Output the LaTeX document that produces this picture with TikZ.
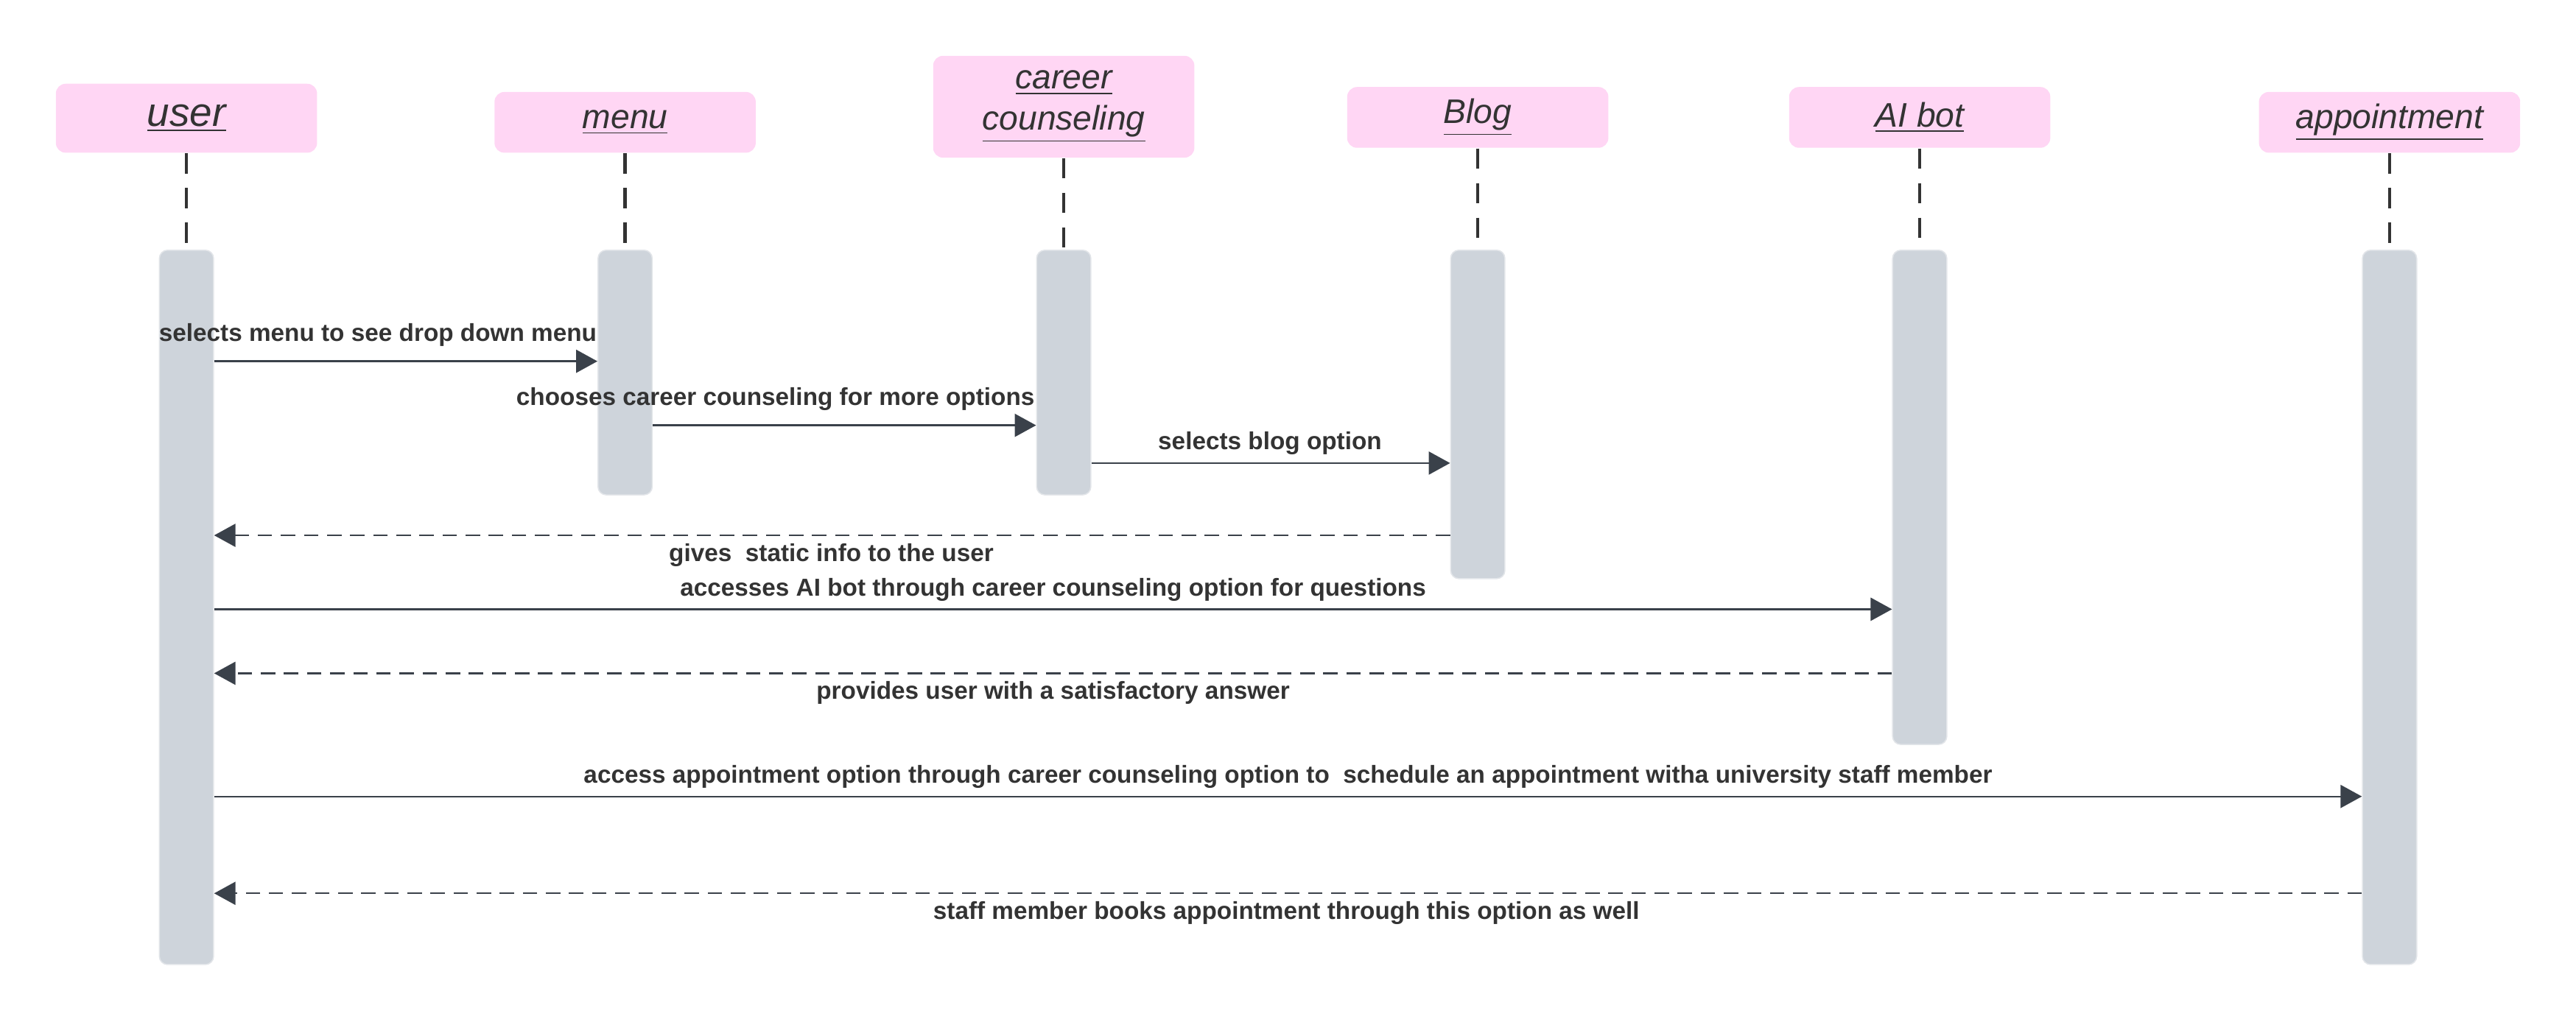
\documentclass[tikz,border=0pt]{standalone}
\usepackage{fontspec}
\setmainfont{Liberation Sans}
\usetikzlibrary{arrows.meta}
\definecolor{headpink}{HTML}{FFD6F4}
\definecolor{bargray}{HTML}{CED4DB}
\definecolor{msgdark}{HTML}{3A414A}
\definecolor{txtdark}{HTML}{333333}
\tikzset{
  head/.style={fill=headpink, rounded corners=0.12cm, minimum width=3.18cm, minimum height=0.74cm, text=txtdark, font=\fontsize{11.8}{14.2}\selectfont\itshape, align=center, inner sep=0},
  bar/.style={fill=bargray, draw=bargray!60!white, line width=0.4pt, rounded corners=0.1cm, minimum width=0.66cm, anchor=north, inner sep=0},
  life/.style={txtdark, line width=1.2pt, dash pattern=on 7pt off 5pt},
  msg/.style={msgdark, line width=0.6pt, -{Triangle[length=0.26cm,width=0.28cm]}},
  reply/.style={msg, dash pattern=on 5pt off 3pt},
  lbl/.style={text=txtdark, font=\fontsize{8.5}{10}\selectfont\bfseries, inner sep=0}
}
\begin{document}
\begin{tikzpicture}
    \useasboundingbox (0, 0) rectangle (31.36, -12.44);

    % heads
    \node[head, minimum height=0.84cm, font=\fontsize{14}{16}\selectfont\itshape] (user) at (2.27, -1.44) {\underline{user}};
    \node[head] (menu) at (7.61, -1.49) {\underline{menu}};
    \node[head, minimum height=1.24cm] (career) at (12.95, -1.30) {\underline{career}\\\underline{counseling}};
    \node[head] (blog) at (17.99, -1.43) {\underline{Blog}};
    \node[head] (aibot) at (23.37, -1.43) {\underline{AI bot}};
    \node[head] (appt) at (29.09, -1.49) {\underline{appointment}};

    % activation bars
    \node[bar, minimum height=8.70cm] (ubar) at (2.27, -3.04) {};
    \node[bar, minimum height=2.98cm] (mbar) at (7.61, -3.04) {};
    \node[bar, minimum height=2.98cm] (cbar) at (12.95, -3.04) {};
    \node[bar, minimum height=4.00cm] (bbar) at (17.99, -3.04) {};
    \node[bar, minimum height=6.02cm] (abar) at (23.37, -3.04) {};
    \node[bar, minimum height=8.70cm] (pbar) at (29.09, -3.04) {};

    \draw[life] (user) -- (ubar);
    \draw[life] (menu) -- (mbar);
    \draw[life] (career) -- (cbar);
    \draw[life] (blog) -- (bbar);
    \draw[life] (aibot) -- (abar);
    \draw[life] (appt) -- (pbar);

    % messages
    \draw[msg] (ubar.east |- 0,-4.40) -- (mbar.west |- 0,-4.40);
    \node[lbl] (l1) at (4.60, -4.08) {selects menu to see drop down menu};
    \draw[msg] (mbar.east |- 0,-5.18) -- (cbar.west |- 0,-5.18);
    \node[lbl] (l2) at (9.44, -4.86) {chooses career counseling for more options};
    \draw[msg] (cbar.east |- 0,-5.64) -- (bbar.west |- 0,-5.64);
    \node[lbl] (l3) at (15.46, -5.40) {selects blog option};
    \draw[reply] (bbar.west |- 0,-6.52) -- (ubar.east |- 0,-6.52);
    \node[lbl] (l4) at (10.12, -6.76) {gives\ \ static info to the user};
    \draw[msg] (ubar.east |- 0,-7.42) -- (abar.west |- 0,-7.42);
    \node[lbl] (l5) at (12.82, -7.18) {accesses AI bot through career counseling option for questions};
    \draw[reply] (abar.west |- 0,-8.20) -- (ubar.east |- 0,-8.20);
    \node[lbl] (l6) at (12.82, -8.44) {provides user with a satisfactory answer};
    \draw[msg] (ubar.east |- 0,-9.70) -- (pbar.west |- 0,-9.70);
    \node[lbl] (l7) at (15.68, -9.46) {access appointment option through career counseling option to\ \ schedule an appointment witha university staff member};
    \draw[reply] (pbar.west |- 0,-10.88) -- (ubar.east |- 0,-10.88);
    \node[lbl] (l8) at (15.66, -11.12) {staff member books appointment through this option as well};

\end{tikzpicture}
\end{document}
